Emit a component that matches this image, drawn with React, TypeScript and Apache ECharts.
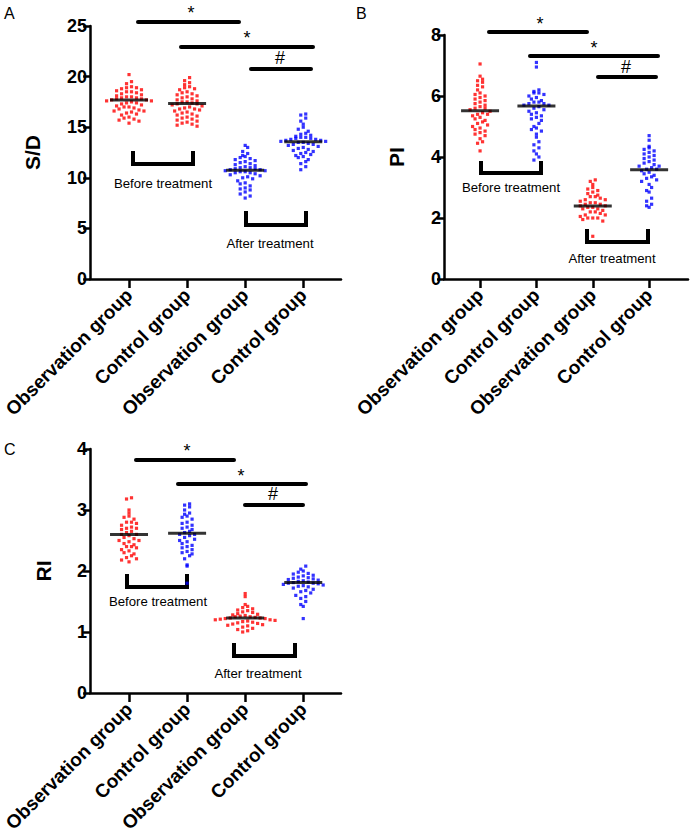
import React, { useEffect, useRef } from "react";
import * as echarts from "echarts";

// ---------- Categories ----------
const groupNames = ["Observation group", "Control group", "Observation group", "Control group"];

// ---------- Panel A: S/D ----------
const sdObsBefore = [20.2, 19.5, 19.3, 19.0, 18.9, 18.9, 18.8, 18.7, 18.6, 18.5, 18.5, 18.4, 18.3, 18.2, 18.1, 18.0, 18.0, 17.9, 17.9, 17.8, 17.8, 17.7, 17.7, 17.6, 17.6, 17.5, 17.4, 17.4, 17.3, 17.2, 17.1, 17.0, 17.0, 16.9, 16.8, 16.7, 16.6, 16.6, 16.5, 16.4, 16.3, 16.2, 16.0, 15.9, 15.8, 15.7, 15.6, 15.4];
const sdCtrlBefore = [19.9, 19.6, 19.4, 19.2, 19.0, 18.9, 18.8, 18.7, 18.5, 18.4, 18.3, 18.2, 18.1, 18.0, 17.9, 17.8, 17.7, 17.6, 17.5, 17.5, 17.4, 17.3, 17.3, 17.2, 17.1, 17.0, 16.9, 16.8, 16.8, 16.7, 16.6, 16.5, 16.4, 16.3, 16.2, 16.1, 16.0, 15.9, 15.8, 15.7, 15.6, 15.5, 15.4, 15.3, 15.2, 15.1];
const sdObsAfter = [13.2, 13.0, 12.6, 12.4, 12.2, 12.1, 12.0, 11.9, 11.8, 11.7, 11.6, 11.5, 11.4, 11.3, 11.2, 11.1, 11.0, 11.0, 10.9, 10.9, 10.8, 10.8, 10.7, 10.7, 10.6, 10.6, 10.5, 10.5, 10.4, 10.3, 10.2, 10.1, 10.0, 9.9, 9.7, 9.5, 9.4, 9.2, 9.0, 8.9, 8.8, 8.6, 8.4, 8.2, 8.0];
const sdCtrlAfter = [16.3, 16.2, 15.9, 15.6, 15.3, 15.0, 14.8, 14.6, 14.4, 14.3, 14.2, 14.1, 14.0, 14.0, 13.9, 13.9, 13.8, 13.8, 13.7, 13.7, 13.6, 13.6, 13.5, 13.5, 13.4, 13.3, 13.3, 13.2, 13.1, 13.0, 12.9, 12.8, 12.7, 12.6, 12.5, 12.4, 12.3, 12.2, 12.1, 12.0, 11.8, 11.6, 11.4, 11.1, 10.8];
const sdMeans = [17.7, 17.35, 10.75, 13.55];
const sdTicks = [0, 5, 10, 15, 20, 25];

// ---------- Panel B: PI ----------
const piObsBefore = [7.05, 6.65, 6.55, 6.5, 6.45, 6.35, 6.3, 6.2, 6.1, 6.05, 6.0, 5.95, 5.9, 5.85, 5.8, 5.75, 5.7, 5.65, 5.6, 5.6, 5.55, 5.5, 5.45, 5.4, 5.4, 5.35, 5.3, 5.25, 5.2, 5.15, 5.1, 5.05, 5.0, 4.95, 4.9, 4.85, 4.8, 4.75, 4.7, 4.6, 4.5, 4.45, 4.2];
const piCtrlBefore = [7.1, 6.95, 6.2, 6.15, 6.1, 6.1, 6.05, 6.0, 5.95, 5.9, 5.85, 5.8, 5.8, 5.75, 5.75, 5.7, 5.7, 5.65, 5.6, 5.55, 5.5, 5.45, 5.4, 5.35, 5.3, 5.25, 5.2, 5.1, 5.0, 4.95, 4.9, 4.85, 4.75, 4.65, 4.5, 4.4, 4.3, 4.2, 4.1, 4.0, 3.9];
const piObsAfter = [3.25, 3.2, 3.1, 3.0, 2.95, 2.9, 2.85, 2.8, 2.75, 2.7, 2.7, 2.65, 2.6, 2.6, 2.55, 2.5, 2.5, 2.45, 2.45, 2.4, 2.4, 2.35, 2.35, 2.3, 2.3, 2.25, 2.2, 2.2, 2.15, 2.1, 2.1, 2.05, 2.0, 2.0, 2.0, 1.95, 1.9, 1.4];
const piCtrlAfter = [4.7, 4.55, 4.35, 4.3, 4.25, 4.2, 4.15, 4.1, 4.05, 4.0, 3.95, 3.9, 3.85, 3.8, 3.75, 3.7, 3.7, 3.65, 3.6, 3.6, 3.55, 3.5, 3.45, 3.4, 3.35, 3.3, 3.25, 3.2, 3.1, 3.0, 2.9, 2.85, 2.65, 2.55, 2.45, 2.4, 2.35];
const piMeans = [5.52, 5.67, 2.39, 3.58];
const piTicks = [0, 2, 4, 6, 8];

// ---------- Panel C: RI ----------
const riObsBefore = [3.2, 3.18, 3.0, 2.95, 2.9, 2.88, 2.85, 2.8, 2.8, 2.78, 2.75, 2.72, 2.7, 2.7, 2.68, 2.65, 2.63, 2.6, 2.6, 2.58, 2.55, 2.53, 2.5, 2.5, 2.48, 2.45, 2.43, 2.4, 2.4, 2.38, 2.35, 2.33, 2.3, 2.28, 2.25, 2.22, 2.2, 2.18, 2.15];
const riCtrlBefore = [3.1, 3.08, 3.05, 3.0, 2.95, 2.93, 2.9, 2.88, 2.85, 2.8, 2.78, 2.75, 2.72, 2.7, 2.68, 2.65, 2.63, 2.6, 2.6, 2.58, 2.55, 2.52, 2.5, 2.48, 2.45, 2.42, 2.4, 2.38, 2.35, 2.32, 2.3, 2.28, 2.25, 2.2, 2.1, 2.08, 1.8];
const riObsAfter = [1.63, 1.58, 1.45, 1.42, 1.4, 1.38, 1.36, 1.35, 1.33, 1.32, 1.3, 1.29, 1.28, 1.27, 1.26, 1.25, 1.25, 1.24, 1.23, 1.23, 1.22, 1.22, 1.21, 1.2, 1.2, 1.19, 1.18, 1.17, 1.16, 1.15, 1.14, 1.13, 1.12, 1.11, 1.1, 1.08, 1.06, 1.04, 1.02, 1.0];
const riCtrlAfter = [2.08, 2.03, 2.0, 1.98, 1.96, 1.95, 1.93, 1.92, 1.9, 1.89, 1.88, 1.87, 1.86, 1.85, 1.84, 1.83, 1.82, 1.81, 1.8, 1.8, 1.79, 1.78, 1.77, 1.76, 1.75, 1.74, 1.72, 1.7, 1.68, 1.66, 1.64, 1.6, 1.58, 1.55, 1.5, 1.45, 1.42, 1.22];
const riMeans = [2.6, 2.62, 1.23, 1.81];
const riTicks = [0, 1, 2, 3, 4];

const RED = "#ff0000";
const BLUE = "#0000ff";
const FONT = "Arial, 'Liberation Sans', Helvetica, sans-serif";

type Panel = {
  letter: string;
  name: string;
  groups: number[][];
  means: number[];
  colors: string[];
  ticks: number[];
  grid: { left: number; top: number; width: number; height: number };
  xMin: number;
  xMax: number;
  nameGap: number;
  letterPos: [number, number];
  sig: { lines: number[][]; marks: { t: string; x: number; y: number }[] };
  brackets: { x1: number; x2: number; top: number; bottom: number; label: string; tx: number; ty: number }[];
};

const panels: Panel[] = [
  {
    letter: "A",
    name: "S/D",
    groups: [sdObsBefore, sdCtrlBefore, sdObsAfter, sdCtrlAfter],
    means: sdMeans,
    colors: [RED, RED, BLUE, BLUE],
    ticks: sdTicks,
    grid: { left: 89, top: 26, width: 252, height: 253 },
    xMin: 0.33,
    xMax: 4.65,
    nameGap: 47,
    letterPos: [4, 5],
    sig: {
      lines: [[138, 239, 22], [181, 313, 47], [251, 311, 69]],
      marks: [{ t: "*", x: 191, y: 9 }, { t: "*", x: 247, y: 34 }, { t: "#", x: 280, y: 58 }],
    },
    brackets: [
      { x1: 133, x2: 193, top: 151, bottom: 164, label: "Before treatment", tx: 163, ty: 183 },
      { x1: 246, x2: 306, top: 211, bottom: 225, label: "After treatment", tx: 270, ty: 243 },
    ],
  },
  {
    letter: "B",
    name: "PI",
    groups: [piObsBefore, piCtrlBefore, piObsAfter, piCtrlAfter],
    means: piMeans,
    colors: [RED, BLUE, RED, BLUE],
    ticks: piTicks,
    grid: { left: 444, top: 35, width: 244, height: 244 },
    xMin: 0.36,
    xMax: 4.69,
    nameGap: 37,
    letterPos: [356, 5],
    sig: {
      lines: [[489, 587, 32], [530, 658, 56], [598, 656, 77]],
      marks: [{ t: "*", x: 540, y: 20 }, { t: "*", x: 594, y: 44 }, { t: "#", x: 626, y: 67 }],
    },
    brackets: [
      { x1: 481, x2: 541, top: 161, bottom: 173, label: "Before treatment", tx: 511, ty: 187 },
      { x1: 587, x2: 648, top: 229, bottom: 242, label: "After treatment", tx: 612, ty: 258 },
    ],
  },
  {
    letter: "C",
    name: "RI",
    groups: [riObsBefore, riCtrlBefore, riObsAfter, riCtrlAfter],
    means: riMeans,
    colors: [RED, BLUE, RED, BLUE],
    ticks: riTicks,
    grid: { left: 89, top: 449, width: 252, height: 244 },
    xMin: 0.33,
    xMax: 4.65,
    nameGap: 36,
    letterPos: [4, 441],
    sig: {
      lines: [[136, 234, 460], [178, 306, 484], [245, 303, 505]],
      marks: [{ t: "*", x: 187, y: 447 }, { t: "*", x: 241, y: 472 }, { t: "#", x: 273, y: 494 }],
    },
    brackets: [
      { x1: 127, x2: 187, top: 574, bottom: 587, label: "Before treatment", tx: 158, ty: 601 },
      { x1: 234, x2: 295, top: 643, bottom: 656, label: "After treatment", tx: 258, ty: 673 },
    ],
  },
];

// Beeswarm-style layout: values are binned into rows (in pixel space), points in a row spread horizontally.
function swarm(values: number[], center: number, pxPerX: number, pxPerY: number, spacingPx = 5, rowPx = 5) {
  const sorted = [...values].sort((a, b) => b - a);
  const rows = new Map<number, number[]>();
  for (const v of sorted) {
    const k = Math.round((v * pxPerY) / rowPx);
    if (!rows.has(k)) rows.set(k, []);
    rows.get(k)!.push(v);
  }
  const out: number[][] = [];
  rows.forEach((vals) => {
    const n = vals.length;
    // alternate placement around the centre, GraphPad style
    vals.forEach((v, i) => {
      const slot = n % 2 === 1 ? Math.ceil(i / 2) * (i % 2 === 0 ? 1 : -1) : (Math.floor(i / 2) + 0.5) * (i % 2 === 0 ? 1 : -1);
      out.push([center + (slot * spacingPx) / pxPerX, v]);
    });
  });
  return out;
}

export default function App() {
  const ref = useRef<HTMLDivElement>(null);
  useEffect(() => {
    document.body.style.margin = "0";
    if (!ref.current) return;
    const chart = echarts.init(ref.current, undefined, { renderer: "svg" });

    const grids: any[] = [];
    const xAxes: any[] = [];
    const yAxes: any[] = [];
    const series: any[] = [];
    const graphic: any[] = [];

    panels.forEach((p, pi) => {
      grids.push({ ...p.grid, containLabel: false });
      const yMax = p.ticks[p.ticks.length - 1];
      const interval = p.ticks[1] - p.ticks[0];
      xAxes.push({
        type: "value",
        gridIndex: pi,
        min: p.xMin,
        max: p.xMax,
        axisLine: { show: true, onZero: false, lineStyle: { color: "#000", width: 2.5 } },
        axisTick: { show: true, length: 9, customValues: [1, 2, 3, 4], lineStyle: { color: "#000", width: 2.5 } },
        axisLabel: {
          show: true,
          customValues: [1, 2, 3, 4],
          rotate: 45,
          margin: 13,
          color: "#000",
          fontFamily: FONT,
          fontWeight: "bold",
          fontSize: 19,
          formatter: (v: number) => groupNames[Math.round(v) - 1] ?? "",
        },
        splitLine: { show: false },
      });
      yAxes.push({
        type: "value",
        gridIndex: pi,
        min: 0,
        max: yMax,
        interval,
        name: p.name,
        nameLocation: "middle",
        nameGap: p.nameGap,
        nameTextStyle: { color: "#000", fontFamily: FONT, fontWeight: "bold", fontSize: 21 },
        axisLine: { show: true, onZero: false, lineStyle: { color: "#000", width: 2.5 } },
        axisTick: { show: true, length: 7, lineStyle: { color: "#000", width: 2.5 } },
        axisLabel: { color: "#000", fontFamily: FONT, fontWeight: "bold", fontSize: 18, margin: 3 },
        splitLine: { show: false },
      });

      const pxPerX = p.grid.width / (p.xMax - p.xMin);
      const pxPerY = p.grid.height / yMax;
      p.groups.forEach((vals, gi) => {
        series.push({
          type: "scatter",
          xAxisIndex: pi,
          yAxisIndex: pi,
          symbol: "rect",
          symbolSize: 3.2,
          itemStyle: { color: p.colors[gi] },
          data: swarm(vals, gi + 1, pxPerX, pxPerY),
          z: 2,
          silent: true,
        });
      });
      series.push({
        type: "scatter",
        xAxisIndex: pi,
        yAxisIndex: pi,
        symbol: "rect",
        symbolSize: [38, 3],
        itemStyle: { color: "#000" },
        data: p.means.map((m, i) => [i + 1, m]),
        z: 3,
        silent: true,
      });

      graphic.push({
        type: "text",
        left: p.letterPos[0],
        top: p.letterPos[1],
        style: { text: p.letter, fill: "#000", font: `16px ${FONT}` },
      });
      p.sig.lines.forEach(([x1, x2, y]) => {
        graphic.push({
          type: "line",
          shape: { x1, y1: y, x2, y2: y },
          style: { stroke: "#000", lineWidth: 4, lineCap: "round" },
        });
      });
      p.sig.marks.forEach((m) => {
        graphic.push({
          type: "text",
          x: m.x,
          y: m.t === "*" ? m.y + 4 : m.y,
          style: { text: m.t, fill: "#000", font: `18px ${FONT}`, align: "center", verticalAlign: "middle" },
        });
      });
      p.brackets.forEach((b) => {
        graphic.push({
          type: "polyline",
          shape: { points: [[b.x1, b.top], [b.x1, b.bottom], [b.x2, b.bottom], [b.x2, b.top]] },
          style: { stroke: "#000", lineWidth: 4, fill: "none" },
        });
        graphic.push({
          type: "text",
          x: b.tx,
          y: b.ty,
          style: { text: b.label, fill: "#000", font: `13.2px ${FONT}`, align: "center", verticalAlign: "middle" },
        });
      });
    });

    chart.setOption({
      animation: false,
      backgroundColor: "#fff",
      grid: grids,
      xAxis: xAxes,
      yAxis: yAxes,
      series,
      graphic,
    });
    return () => chart.dispose();
  }, []);
  return <div ref={ref} style={{ width: 690, height: 835 }} />;
}
